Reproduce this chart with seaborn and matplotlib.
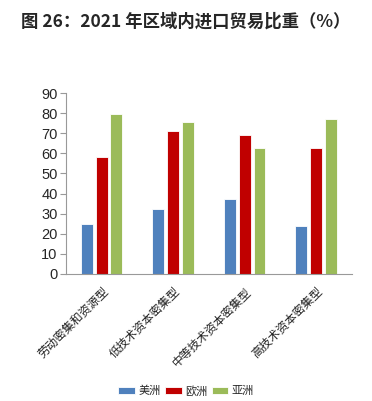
import numpy as np
import pandas as pd
import seaborn as sns
from matplotlib import pyplot as plt

categories = ["劳动密集和资源型", "低技术资本密集型", "中等技术资本密集型", "高技术资本密集型"]
regions = ["美洲", "欧洲", "亚洲"]
americas = [25, 32.5, 37.5, 24]
europe = [58, 71, 69, 62.5]
asia = [79.5, 75.5, 62.5, 77]
colors = ["#4F81BD", "#C00000", "#9BBB59"]

df = pd.DataFrame({
    "cat": categories * 3,
    "region": [r for r in regions for _ in categories],
    "value": americas + europe + asia,
})

sns.set_style("white")
plt.rcParams['font.family'] = ['Noto Sans CJK SC', 'DejaVu Sans']

fig = plt.figure(figsize=(3.72, 4.01), dpi=100)
ax = fig.add_axes([0.177, 0.317, 0.769, 0.451])

sns.barplot(data=df, x="cat", y="value", hue="region", order=categories,
            hue_order=regions, palette=colors, saturation=1, width=0.62, gap=0.2,
            edgecolor="white", linewidth=0.6, ax=ax)

ax.set_xlim(-0.5, 3.5)
ax.set_ylim(0, 90)
ax.set_yticks(np.arange(0, 91, 10))
ax.set_yticklabels([str(v) for v in range(0, 91, 10)], family="Liberation Sans",
                   fontsize=10.5)
ax.set_xlabel("")
ax.set_ylabel("")
ax.set_xticks(range(len(categories)))
ax.set_xticklabels(categories, rotation=45, ha="right", rotation_mode="anchor",
                   fontsize=8.5, color="#222222")
ax.set_xticks(np.arange(-0.5, 4, 1), minor=True)
ax.tick_params(axis="x", which="major", length=0, pad=8)
ax.tick_params(axis="x", which="minor", length=4, color="#999999", direction="out")
ax.tick_params(axis="y", length=4, color="#999999", pad=2, left=True)
for s in ["top", "right"]:
    ax.spines[s].set_visible(False)
for s in ["left", "bottom"]:
    ax.spines[s].set_color("#999999")
    ax.spines[s].set_linewidth(0.8)

handles, labels = ax.get_legend_handles_labels()
ax.get_legend().remove()
fig.legend(handles, labels, loc="center", bbox_to_anchor=(0.5, 0.025), ncol=3,
           frameon=False, fontsize=8, handlelength=1.5, columnspacing=0.4,
           handletextpad=0.3)

fig.text(0.5, 0.945, "图 26：2021 年区域内进口贸易比重（%）", ha="center", va="center",
         fontsize=12.5, fontweight="bold")

fig.savefig("out.png", dpi=100)
